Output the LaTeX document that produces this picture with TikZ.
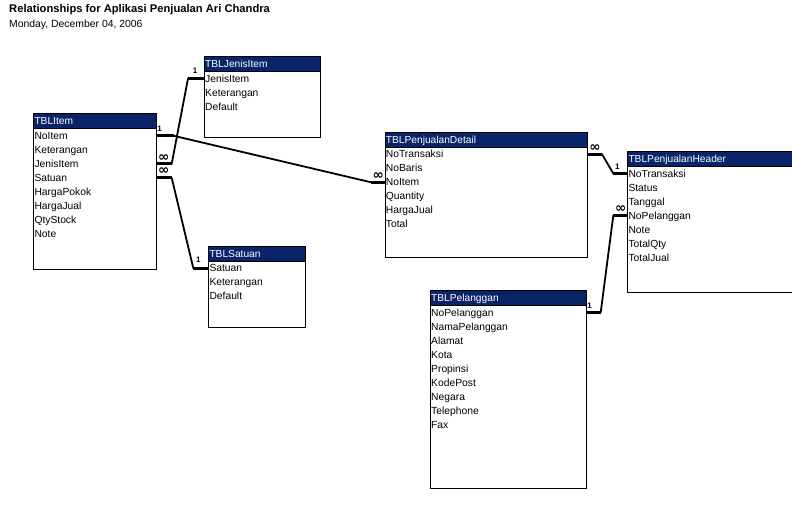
\documentclass[tikz,border=0pt]{standalone}
\usepackage{fontspec}
\setmainfont{Liberation Sans}
\newfontfamily\symfont{DejaVu Sans}
\usetikzlibrary{calc}
\definecolor{hdrblue}{RGB}{10,36,106}
\tikzset{
  tbody/.style={draw=black, line width=1pt, fill=white, anchor=north west, inner sep=0pt},
  thead/.style={draw=black, line width=1pt, fill=hdrblue, anchor=north west, inner sep=0pt, minimum height=15pt},
  htext/.style={anchor=west, inner sep=0pt, text=white, font=\fontsize{10.2}{12}\selectfont, text height=7.2pt, text depth=0pt},
  field/.style={anchor=west, inner sep=0pt, font=\fontsize{10.3}{12}\selectfont, text height=7.2pt, text depth=0pt},
  thk/.style={line width=3.2pt},
  thn/.style={line width=1.8pt, line cap=round},
  many/.style={inner sep=0pt, font=\symfont\bfseries\fontsize{13.5}{14}\selectfont},
  one/.style={inner sep=0pt, font=\bfseries\fontsize{8}{9}\selectfont},
  ttl/.style={anchor=base west, inner sep=0pt, font=\bfseries\fontsize{11.2}{13}\selectfont},
  dte/.style={anchor=base west, inner sep=0pt, font=\fontsize{10.4}{12}\selectfont}
}
\newcommand\mktab[7]{%
  \node[tbody, minimum width=#5pt, minimum height=#6pt] (#1) at (#3,#4) {};
  \node[thead, minimum width=#5pt] (#1h) at (#3,#4) {};
  \node[htext] (#1t) at ($(#1h.west)+(1,0)$) {#2};
  \foreach \f [count=\k] in {#7} {%
    \node[field] (#1-\f) at ($(#1.north west)+(1,{22.5+14*(\k-1)})$) {\f};
  }%
}
\begin{document}
\begin{tikzpicture}[x=1pt,y=-1pt]
\useasboundingbox (0,0) rectangle (792,507);
\fill[white] (0,0) rectangle (792,507);
\clip (0,0) rectangle (792,507);

\node[ttl] (title) at (9,12) {Relationships for Aplikasi Penjualan Ari Chandra};
\node[dte] (date) at (9,27.5) {Monday, December 04, 2006};

\mktab{j}{TBLJenisItem}{204}{56}{116}{81.3}{JenisItem,Keterangan,Default}
\mktab{i}{TBLItem}{33.3}{113.3}{122.4}{156}{NoItem,Keterangan,JenisItem,Satuan,HargaPokok,HargaJual,QtyStock,Note}
\mktab{s}{TBLSatuan}{208.3}{245.7}{96.7}{81}{Satuan,Keterangan,Default}
\mktab{d}{TBLPenjualanDetail}{384.7}{131.7}{202.3}{125}{NoTransaksi,NoBaris,NoItem,Quantity,HargaJual,Total}
\mktab{h}{TBLPenjualanHeader}{627.3}{151}{175}{140.7}{NoTransaksi,Status,Tanggal,NoPelanggan,Note,TotalQty,TotalJual}
\mktab{p}{TBLPelanggan}{430}{290}{155.7}{198.3}{NoPelanggan,NamaPelanggan,Alamat,Kota,Propinsi,KodePost,Negara,Telephone,Fax}

% TBLItem.JenisItem (many) -- TBLJenisItem.JenisItem (one)
\coordinate (e1) at (i.east |- i-JenisItem);
\coordinate (f1) at (j.west |- j-JenisItem);
\draw[thk] (e1) -- ++(15,0) coordinate (e1b);
\draw[thk] (f1) -- ++(-16,0) coordinate (f1b);
\draw[thn] (e1b) -- (f1b);
\node[many] (m1) at ([xshift=7pt,yshift=5.5pt]e1) {∞};
\node[one] (o1) at ([xshift=-9pt,yshift=8pt]f1) {1};

% TBLItem.NoItem (one) -- TBLPenjualanDetail.NoItem (many)
\coordinate (e2) at (i.east |- i-NoItem);
\coordinate (f2) at (d.west |- d-NoItem);
\draw[thk] (e2) -- ++(17,0) coordinate (e2b);
\draw[thk] (f2) -- ++(-14,0) coordinate (f2b);
\draw[thn] (e2b) -- (f2b);
\node[one] (o2) at ([xshift=3pt,yshift=7pt]e2) {1};
\node[many] (m2) at ([xshift=-6.5pt,yshift=6.5pt]f2) {∞};

% TBLItem.Satuan (many) -- TBLSatuan.Satuan (one)
\coordinate (e3) at (i.east |- i-Satuan);
\coordinate (f3) at (s.west |- s-Satuan);
\draw[thk] (e3) -- ++(15,0) coordinate (e3b);
\draw[thk] (f3) -- ++(-15,0) coordinate (f3b);
\draw[thn] (e3b) -- (f3b);
\node[many] (m3) at ([xshift=7pt,yshift=6.5pt]e3) {∞};
\node[one] (o3) at ([xshift=-10pt,yshift=8pt]f3) {1};

% TBLPenjualanDetail.NoTransaksi (many) -- TBLPenjualanHeader.NoTransaksi (one)
\coordinate (e4) at (d.east |- d-NoTransaksi);
\coordinate (f4) at (h.west |- h-NoTransaksi);
\draw[thk] (e4) -- ++(14,0) coordinate (e4b);
\draw[thk] (f4) -- ++(-14,0) coordinate (f4b);
\draw[thn] (e4b) -- (f4b);
\node[many] (m4) at ([xshift=7pt,yshift=6pt]e4) {∞};
\node[one] (o4) at ([xshift=-10pt,yshift=7pt]f4) {1};

% TBLPelanggan.NoPelanggan (one) -- TBLPenjualanHeader.NoPelanggan (many)
\coordinate (e5) at (p.east |- p-NoPelanggan);
\coordinate (f5) at (h.west |- h-NoPelanggan);
\draw[thk] (e5) -- ++(14,0) coordinate (e5b);
\draw[thk] (f5) -- ++(-14,0) coordinate (f5b);
\draw[thn] (e5b) -- (f5b);
\node[one] (o5) at ([xshift=3pt,yshift=7pt]e5) {1};
\node[many] (m5) at ([xshift=-6.5pt,yshift=6.5pt]f5) {∞};
\end{tikzpicture}
\end{document}
